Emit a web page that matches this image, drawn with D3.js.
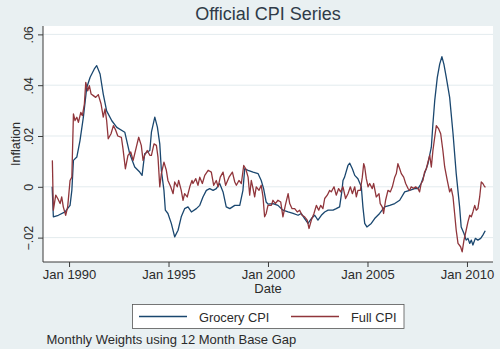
<!DOCTYPE html>
<html>
<head>
<meta charset="utf-8">
<script src="https://cdn.jsdelivr.net/npm/d3@7"></script>
<style>
  html, body { margin: 0; padding: 0; background: #e9f0f2; }
  svg { display: block; font-family: "Liberation Sans", Arial, sans-serif; }
</style>
</head>
<body>
<svg id="chart" width="500" height="349"></svg>
<script>
// ---- Data (decimal year, inflation) ----
const groceryCPI = [
  [1989.15,0.0000],[1989.21,-0.0118],[1989.46,-0.0112],[1989.80,-0.0099],[1990.05,-0.0073],
  [1990.14,-0.0014],[1990.22,0.0104],[1990.39,0.0117],[1990.55,0.0182],[1990.72,0.0274],
  [1990.89,0.0391],[1991.06,0.0431],[1991.27,0.0464],[1991.39,0.0477],[1991.56,0.0444],
  [1991.72,0.0365],[1991.89,0.0299],[1992.15,0.0260],[1992.40,0.0234],[1992.80,0.0215],
  [1993.05,0.0130],[1993.30,0.0078],[1993.55,0.0058],[1993.67,0.0045],[1993.80,0.0130],
  [1994.06,0.0143],[1994.14,0.0215],[1994.31,0.0274],[1994.44,0.0235],[1994.56,0.0169],
  [1994.64,0.0065],[1994.77,-0.0014],[1994.84,-0.0092],[1994.97,-0.0105],[1995.14,-0.0144],
  [1995.31,-0.0197],[1995.48,-0.0171],[1995.64,-0.0118],[1995.81,-0.0086],[1995.98,-0.0079],
  [1996.15,-0.0099],[1996.40,-0.0086],[1996.57,-0.0073],[1996.73,-0.0040],[1996.90,-0.0014],
  [1997.07,-0.0007],[1997.24,-0.0014],[1997.40,-0.0007],[1997.57,0.0013],[1997.74,-0.0020],
  [1997.90,-0.0079],[1998.08,-0.0086],[1998.33,-0.0073],[1998.58,-0.0073],[1998.74,-0.0014],
  [1998.83,0.0071],[1999.00,0.0065],[1999.25,0.0058],[1999.50,0.0052],[1999.66,0.0025],
  [1999.78,-0.0007],[1999.91,-0.0060],[2000.00,-0.0068],[2000.25,-0.0066],[2000.50,-0.0073],
  [2000.75,-0.0092],[2001.01,-0.0099],[2001.26,-0.0105],[2001.51,-0.0112],[2001.67,-0.0105],
  [2001.84,-0.0125],[2002.01,-0.0144],[2002.18,-0.0125],[2002.35,-0.0112],[2002.51,-0.0131],
  [2002.68,-0.0112],[2002.85,-0.0099],[2003.02,-0.0092],[2003.27,-0.0092],[2003.43,-0.0086],
  [2003.60,-0.0079],[2003.72,-0.0014],[2003.77,0.0025],[2003.85,0.0038],[2004.02,0.0084],
  [2004.11,0.0093],[2004.24,0.0071],[2004.36,0.0045],[2004.52,0.0032],[2004.69,0.0000],
  [2004.77,-0.0079],[2004.86,-0.0144],[2004.97,-0.0158],[2005.19,-0.0144],[2005.36,-0.0125],
  [2005.61,-0.0105],[2005.86,-0.0079],[2006.12,-0.0073],[2006.37,-0.0066],[2006.62,-0.0053],
  [2006.87,-0.0020],[2007.12,-0.0014],[2007.37,-0.0007],[2007.54,-0.0007],[2007.70,0.0013],
  [2007.87,0.0052],[2008.04,0.0091],[2008.21,0.0156],[2008.29,0.0248],[2008.38,0.0339],
  [2008.51,0.0431],[2008.63,0.0483],[2008.74,0.0512],[2008.84,0.0483],[2008.96,0.0431],
  [2009.13,0.0352],[2009.30,0.0209],[2009.46,0.0052],[2009.63,-0.0079],[2009.71,-0.0158],
  [2009.85,-0.0184],[2009.96,-0.0210],[2010.05,-0.0203],[2010.14,-0.0223],[2010.22,-0.0210],
  [2010.30,-0.0229],[2010.42,-0.0203],[2010.55,-0.0210],[2010.69,-0.0203],[2010.80,-0.0190],
  [2010.92,-0.0173]
];
const fullCPI = [
  [1989.16,0.0104],[1989.21,-0.0092],[1989.33,-0.0033],[1989.43,-0.0046],[1989.55,-0.0066],
  [1989.63,-0.0040],[1989.71,-0.0079],[1989.83,-0.0112],[1989.93,-0.0079],[1990.05,0.0025],
  [1990.14,0.0038],[1990.22,0.0287],[1990.30,0.0261],[1990.39,0.0274],[1990.47,0.0254],
  [1990.59,0.0293],[1990.67,0.0280],[1990.77,0.0326],[1990.84,0.0411],[1990.94,0.0378],
  [1991.02,0.0398],[1991.11,0.0365],[1991.22,0.0359],[1991.34,0.0352],[1991.47,0.0363],
  [1991.61,0.0326],[1991.72,0.0274],[1991.81,0.0307],[1991.89,0.0261],[1991.97,0.0189],
  [1992.11,0.0209],[1992.23,0.0241],[1992.35,0.0222],[1992.45,0.0200],[1992.63,0.0195],
  [1992.71,0.0150],[1992.83,0.0071],[1992.96,0.0124],[1993.10,0.0137],[1993.22,0.0104],
  [1993.38,0.0156],[1993.50,0.0195],[1993.63,0.0163],[1993.72,0.0104],[1993.80,0.0124],
  [1993.93,0.0143],[1994.06,0.0124],[1994.14,0.0124],[1994.27,0.0169],[1994.39,0.0163],
  [1994.47,0.0117],[1994.56,0.0000],[1994.64,0.0052],[1994.77,0.0097],[1994.89,0.0065],
  [1994.97,0.0025],[1995.11,0.0000],[1995.23,-0.0027],[1995.31,0.0019],[1995.44,0.0000],
  [1995.51,0.0025],[1995.64,-0.0014],[1995.73,-0.0053],[1995.81,-0.0027],[1995.94,-0.0040],
  [1996.07,0.0000],[1996.18,0.0025],[1996.23,0.0013],[1996.37,0.0032],[1996.48,0.0006],
  [1996.57,0.0038],[1996.70,0.0013],[1996.82,0.0045],[1996.99,0.0065],[1997.15,0.0058],
  [1997.27,0.0006],[1997.40,0.0025],[1997.49,0.0000],[1997.60,0.0038],[1997.74,0.0058],
  [1997.87,0.0006],[1998.04,0.0038],[1998.21,0.0058],[1998.33,0.0019],[1998.41,0.0006],
  [1998.54,0.0025],[1998.66,0.0013],[1998.78,0.0084],[1998.88,0.0071],[1999.00,0.0038],
  [1999.08,-0.0033],[1999.16,0.0025],[1999.25,-0.0007],[1999.33,-0.0040],[1999.41,0.0000],
  [1999.55,-0.0014],[1999.66,0.0006],[1999.75,-0.0040],[1999.83,-0.0118],[1999.91,-0.0105],
  [2000.00,-0.0073],[2000.17,-0.0073],[2000.25,-0.0053],[2000.37,-0.0066],[2000.50,-0.0053],
  [2000.64,-0.0060],[2000.75,-0.0118],[2000.87,-0.0073],[2001.01,-0.0027],[2001.09,-0.0066],
  [2001.21,-0.0086],[2001.34,-0.0086],[2001.47,-0.0099],[2001.59,-0.0092],[2001.71,-0.0112],
  [2001.84,-0.0118],[2001.97,-0.0131],[2002.06,-0.0164],[2002.18,-0.0131],[2002.31,-0.0105],
  [2002.43,-0.0073],[2002.55,-0.0092],[2002.65,-0.0073],[2002.76,-0.0086],[2002.85,-0.0046],
  [2002.98,-0.0033],[2003.10,-0.0014],[2003.18,-0.0020],[2003.32,0.0000],[2003.43,-0.0033],
  [2003.55,-0.0007],[2003.65,-0.0020],[2003.77,0.0000],[2003.90,-0.0046],[2004.02,-0.0027],
  [2004.14,0.0000],[2004.24,-0.0027],[2004.36,0.0000],[2004.44,-0.0040],[2004.52,-0.0014],
  [2004.64,-0.0014],[2004.74,0.0038],[2004.81,0.0091],[2004.86,0.0078],[2004.94,0.0032],
  [2005.03,0.0000],[2005.11,0.0013],[2005.24,-0.0007],[2005.31,0.0013],[2005.44,-0.0040],
  [2005.58,-0.0027],[2005.64,-0.0066],[2005.74,-0.0079],[2005.81,-0.0105],[2005.91,-0.0053],
  [2006.03,-0.0014],[2006.15,-0.0020],[2006.25,0.0000],[2006.37,0.0038],[2006.45,0.0052],
  [2006.53,0.0091],[2006.62,0.0071],[2006.70,0.0052],[2006.82,0.0038],[2006.92,0.0013],
  [2007.04,-0.0007],[2007.12,-0.0014],[2007.20,0.0000],[2007.32,-0.0007],[2007.42,0.0000],
  [2007.54,-0.0007],[2007.62,-0.0020],[2007.70,0.0013],[2007.79,0.0025],[2007.87,0.0058],
  [2007.96,0.0071],[2008.04,0.0097],[2008.13,0.0124],[2008.21,0.0078],[2008.29,0.0143],
  [2008.38,0.0195],[2008.46,0.0241],[2008.58,0.0228],[2008.68,0.0209],[2008.79,0.0143],
  [2008.88,0.0078],[2009.01,0.0025],[2009.13,-0.0020],[2009.21,-0.0007],[2009.30,-0.0040],
  [2009.38,-0.0105],[2009.46,-0.0171],[2009.55,-0.0223],[2009.68,-0.0236],[2009.76,-0.0256],
  [2009.85,-0.0210],[2009.96,-0.0171],[2010.05,-0.0138],[2010.14,-0.0112],[2010.22,-0.0118],
  [2010.30,-0.0099],[2010.39,-0.0073],[2010.47,-0.0092],[2010.55,-0.0086],[2010.64,-0.0040],
  [2010.72,0.0019],[2010.80,0.0013],[2010.89,0.0000],[2010.94,0.0000]
];
const yTicks = [-0.02, 0, 0.02, 0.04, 0.06];
const yTickLabels = ["\u2212.02", "0", ".02", ".04", ".06"];
const xTickYears = [1990, 1995, 2000, 2005, 2010];
const xTickLabels = ["Jan 1990", "Jan 1995", "Jan 2000", "Jan 2005", "Jan 2010"];
const seriesNames = ["Grocery CPI", "Full CPI"];
const seriesColors = ["#1a476f", "#90353b"];
const titleText = "Official CPI Series";
const yTitle = "Inflation";
const xTitle = "Date";
const noteText = "Monthly Weights using 12 Month Base Gap";

// ---- Layout ----
const svg = d3.select("#chart");
const L = 43, R = 493, T = 26, B = 262;

function toDate(y) {
  const yr = Math.floor(y);
  const start = new Date(yr, 0, 1), end = new Date(yr + 1, 0, 1);
  return new Date(start.getTime() + (y - yr) * (end - start));
}

const x = d3.scaleTime().domain([toDate(1988.69), toDate(2011.31)]).range([L, R]);
const y = d3.scaleLinear().domain([-0.02 - 0.0096, 0.06 + 0.0033]).range([B, T]);

svg.append("rect").attr("x", 0).attr("y", 0).attr("width", 500).attr("height", 349).attr("fill", "#e9f0f2");
svg.append("rect").attr("x", L).attr("y", T).attr("width", R - L).attr("height", B - T).attr("fill", "#ffffff");

// gridlines
svg.append("g").selectAll("line").data(yTicks).join("line")
  .attr("x1", L).attr("x2", R)
  .attr("y1", d => y(d)).attr("y2", d => y(d))
  .attr("stroke", "#e3ebee").attr("stroke-width", 1);

// lines
const line = d3.line().x(d => x(toDate(d[0]))).y(d => y(d[1])).curve(d3.curveLinear);
[groceryCPI, fullCPI].forEach((s, i) => {
  svg.append("path").datum(s).attr("d", line).attr("fill", "none")
    .attr("stroke", seriesColors[i]).attr("stroke-width", 1.3).attr("stroke-linejoin", "round");
});

// y axis
const yAxis = d3.axisLeft(y).tickValues(yTicks).tickSize(5).tickFormat((d, i) => yTickLabels[i]);
const gy = svg.append("g").attr("transform", `translate(${L},0)`).call(yAxis);
gy.select(".domain").attr("stroke", "#3a3a3a").attr("d", `M0,${B}V${T}`);
gy.selectAll(".tick line").attr("stroke", "#3a3a3a");
gy.selectAll(".tick text")
  .attr("x", null).attr("dy", null)
  .attr("transform", "translate(-10,0) rotate(-90)")
  .attr("text-anchor", "middle")
  .attr("fill", "#2b2b2b").attr("font-size", 12.5)
  .attr("font-family", "Liberation Sans, Arial, sans-serif");

// x axis
const xAxis = d3.axisBottom(x).tickValues(xTickYears.map(v => toDate(v))).tickSize(5)
  .tickFormat((d, i) => xTickLabels[i]);
const gx = svg.append("g").attr("transform", `translate(0,${B})`).call(xAxis);
gx.select(".domain").attr("stroke", "#3a3a3a").attr("d", `M${L},0H${R}`);
gx.selectAll(".tick line").attr("stroke", "#3a3a3a");
gx.selectAll(".tick text").attr("y", 8).attr("dy", "0.71em")
  .attr("fill", "#2b2b2b").attr("font-size", 13)
  .attr("font-family", "Liberation Sans, Arial, sans-serif");

// titles
svg.append("text").attr("x", 268).attr("y", 19.5).attr("text-anchor", "middle")
  .attr("font-size", 18).attr("fill", "#2f3b48").text(titleText);
svg.append("text").attr("transform", `translate(20,${(T + B) / 2}) rotate(-90)`)
  .attr("text-anchor", "middle").attr("font-size", 12.5).attr("fill", "#2b2b2b").text(yTitle);
svg.append("text").attr("x", (L + R) / 2).attr("y", 293).attr("text-anchor", "middle")
  .attr("font-size", 13).attr("fill", "#2b2b2b").text(xTitle);

// legend
const lg = svg.append("g");
lg.append("rect").attr("x", 132.5).attr("y", 304.5).attr("width", 271.5).attr("height", 24)
  .attr("fill", "#ffffff").attr("stroke", "#555555").attr("stroke-width", 0.8);
const legendItems = [
  { x1: 139, x2: 187, tx: 199 },
  { x1: 291, x2: 339, tx: 351 }
];
legendItems.forEach((it, i) => {
  lg.append("line").attr("x1", it.x1).attr("x2", it.x2).attr("y1", 316.5).attr("y2", 316.5)
    .attr("stroke", seriesColors[i]).attr("stroke-width", 1.3);
  lg.append("text").attr("x", it.tx).attr("y", 321.5).attr("font-size", 12.8)
    .attr("fill", "#2b2b2b").text(seriesNames[i]);
});

// note
svg.append("text").attr("x", 46.5).attr("y", 344).attr("font-size", 13)
  .attr("fill", "#2b2b2b").text(noteText);
</script>
</body>
</html>
